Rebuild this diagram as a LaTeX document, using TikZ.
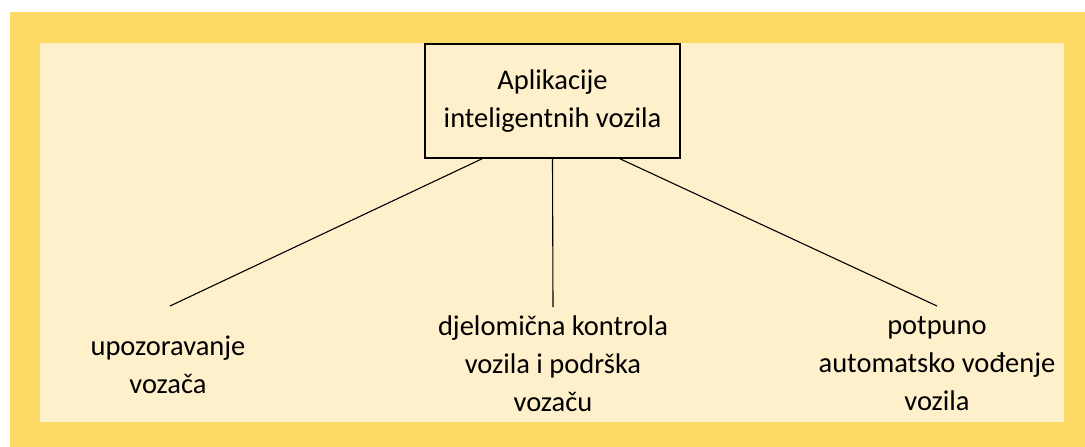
\documentclass[tikz,border=0pt]{standalone}
\usepackage{fontspec}
\setmainfont{Carlito}
\usepackage{tikz}
\definecolor{col1}{RGB}{255,217,102}
\definecolor{col2}{RGB}{255,240,204}
\tikzstyle{app}=[draw, line width=1.6pt, align=center, minimum width=255pt, minimum height=114pt]
\tikzstyle{leaf}=[align=center, anchor=north, inner sep=0pt, execute at begin node=\strut]
\tikzstyle{conn}=[line width=1.1pt]

\begin{document}
\begin{tikzpicture}[x=1pt,y=-1pt,font=\fontsize{28.5}{38}\selectfont]
		    \useasboundingbox (0,0) rectangle (1085,447);
		    \fill[col1] (10,12) rectangle (1085,447);
		    \fill[col2] (40,43) rectangle (1064,422);
		    \node [app] (a) at (552.5,101) {Aplikacije\\inteligentnih vozila};
		    \node [leaf] (b) at (168,335.4) {upozoravanje\\vozača};
		    \node [leaf] (c) at (553,315.4) {djelomična kontrola\\vozila i podrška\\vozaču};
		    \node [leaf] (d) at (937,316.4) {potpuno\\automatsko vođenje\\vozila};
		    \coordinate (bend) at (170,306);
		    \coordinate (cend) at (553,307);
		    \coordinate (dend) at (937,306);
		    \draw[conn] ([xshift=-70.5pt]a.south) -- (bend);
		    \draw[conn] (a.south) -- (cend);
		    \draw[conn] ([xshift=67.5pt]a.south) -- (dend);
		\end{tikzpicture}
\end{document}
